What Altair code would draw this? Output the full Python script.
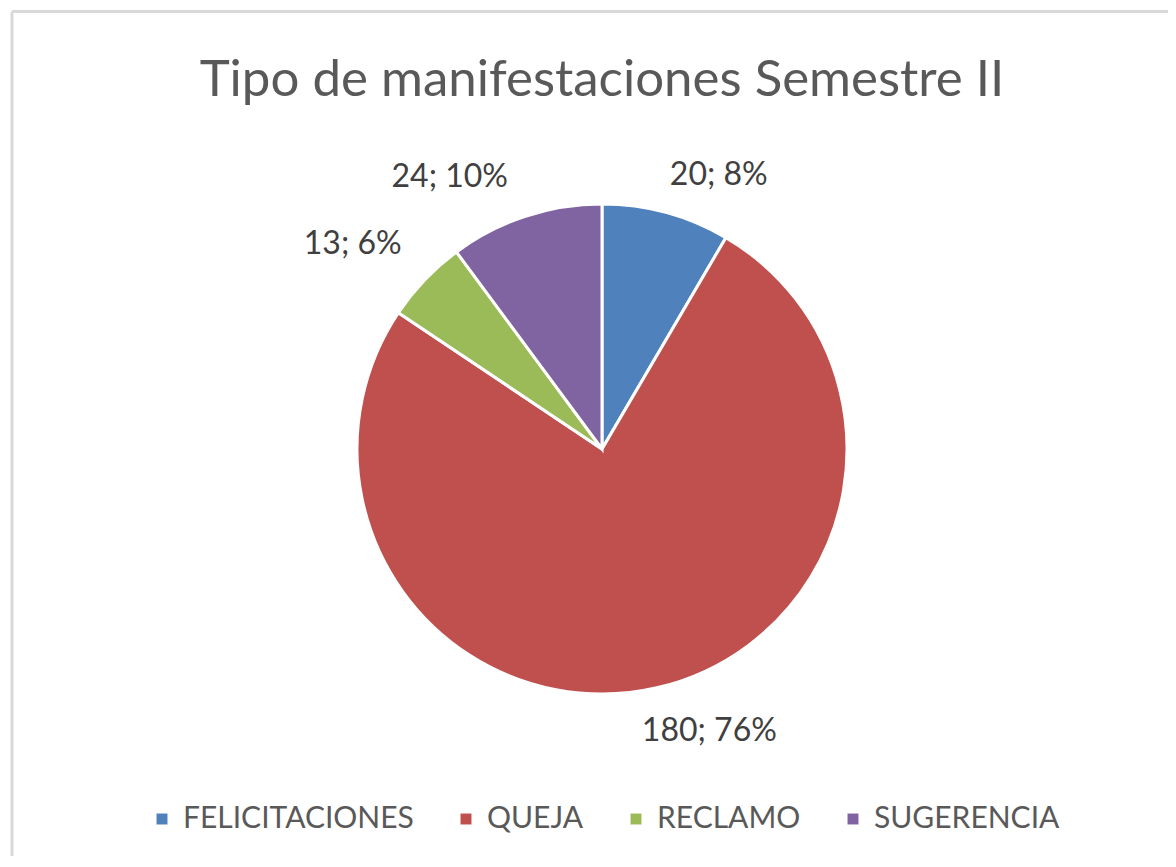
import altair as alt
import pandas as pd

title_text = "Tipo de manifestaciones Semestre II"
categories = ["FELICITACIONES", "QUEJA", "RECLAMO", "SUGERENCIA"]
values = [20, 180, 13, 24]
pct_labels = ["8%", "76%", "6%", "10%"]
colors = ["#4F81BD", "#C0504D", "#9BBB59", "#8064A2"]

FONT = "Lato"
W, H = 1160, 848
CX, CY = 594, 441
R = 245

df = pd.DataFrame({
    "cat": categories,
    "value": values,
    "pct": pct_labels,
    "order": list(range(len(categories))),
})

arc = alt.Chart(df).mark_arc(outerRadius=R, stroke="white", strokeWidth=3).encode(
    theta=alt.Theta("value:Q", stack=True),
    color=alt.Color(
        "cat:N",
        scale=alt.Scale(domain=categories, range=colors),
        sort=categories,
        legend=alt.Legend(
            orient="none", legendX=139, legendY=796, direction="horizontal",
            title=None, symbolType="square", symbolSize=120, symbolStrokeWidth=0,
            labelFontSize=30, labelFont=FONT, labelColor="#595959", labelLimit=0,
            labelOffset=6, columnPadding=37,
        ),
    ),
    order=alt.Order("order:Q"),
    x=alt.value(CX),
    y=alt.value(CY),
)

base = alt.Chart(df).transform_joinaggregate(
    total="sum(value)"
).transform_window(
    cum="sum(value)", sort=[alt.SortField("order")], frame=[None, 0]
).transform_calculate(
    mid="datum.cum - datum.value / 2",
    frac="(datum.cum - datum.value / 2) / datum.total",
    label="datum.value + '; ' + datum.pct",
)

def labels(filt, align, baseline, dx, dy):
    return base.transform_filter(filt).mark_text(
        radius=R + 14, align=align, baseline=baseline, dx=dx, dy=dy,
        fontSize=32, font=FONT, color="#404040",
    ).encode(
        theta=alt.Theta("mid:Q"),
        text="label:N",
        x=alt.value(CX),
        y=alt.value(CY),
    )

lab1 = labels("datum.frac < 0.25", "left", "bottom", 0, -7)
lab2 = labels("datum.frac >= 0.25 && datum.frac < 0.5", "left", "top", -18, 15)
lab3 = labels("datum.frac >= 0.5 && datum.frac < 0.75", "right", "top", 0, 0)
lab4 = labels("datum.frac >= 0.75", "right", "bottom", -13, -9)

title = alt.Chart(pd.DataFrame({"t": [title_text]})).mark_text(
    fontSize=51, font=FONT, color="#595959", align="center", baseline="alphabetic"
).encode(text="t:N", x=alt.value(CX), y=alt.value(88))

one = pd.DataFrame({"a": [0]})
top_border = alt.Chart(one).mark_rule(color="#D9D9D9", strokeWidth=3).encode(
    x=alt.value(4), x2=alt.value(W), y=alt.value(3.5)
)
left_border = alt.Chart(one).mark_rule(color="#D9D9D9", strokeWidth=3).encode(
    x=alt.value(4), y=alt.value(3.5), y2=alt.value(H)
)

chart = alt.layer(
    top_border, left_border, arc, lab1, lab2, lab3, lab4, title
).properties(
    width=W, height=H, padding=0, autosize="none", background="white"
).configure_view(strokeWidth=0)

chart.save("out.html", embed_options={"renderer": "svg", "actions": False})
